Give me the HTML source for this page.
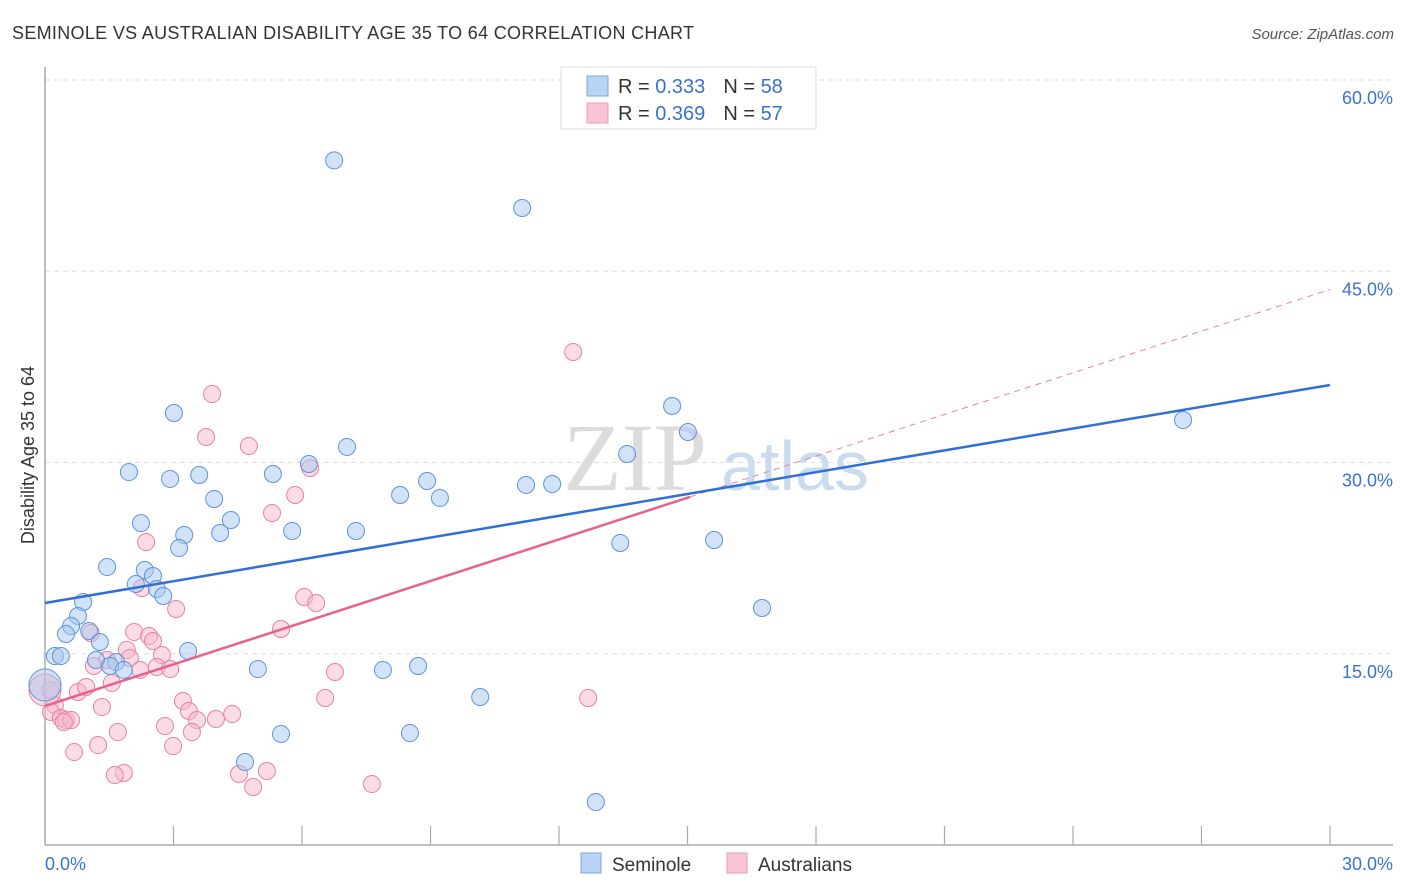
<!DOCTYPE html>
<html><head><meta charset="utf-8"><style>
body{margin:0;background:#fff;font-family:"Liberation Sans",sans-serif}
svg{display:block}
</style></head><body>
<svg id="chart" width="1406" height="892">
<text x="12" y="39" font-size="18" fill="#333" textLength="682">SEMINOLE VS AUSTRALIAN DISABILITY AGE 35 TO 64 CORRELATION CHART</text>
<text x="1394" y="39" font-size="15" fill="#555" font-style="italic" text-anchor="end">Source: ZipAtlas.com</text>
<text x="635" y="490" font-size="96" fill="#dcdcdc" font-family="Liberation Serif,serif" text-anchor="middle">ZIP</text>
<text x="795" y="490" font-size="70" fill="#c9dcef" text-anchor="middle">atlas</text>
<g id="grid"></g>
<g id="axes"></g>
<g id="marks"></g>
<text transform="translate(34,455) rotate(-90)" font-size="18" fill="#333" text-anchor="middle">Disability Age 35 to 64</text>
<g>
<rect x="561" y="67" width="255" height="62" fill="#fff" stroke="#ddd"/>
<rect x="587" y="76" width="21" height="20" fill="#b9d3f5" stroke="#7aa7e0"/>
<rect x="587" y="103" width="21" height="20" fill="#f9c5d4" stroke="#eb9ab5"/>
<text x="618" y="93" font-size="20" fill="#333">R = <tspan fill="#3a72d0">0.333</tspan><tspan dx="18">N = </tspan><tspan fill="#3a72d0">58</tspan></text>
<text x="618" y="120" font-size="20" fill="#333">R = <tspan fill="#3a72d0">0.369</tspan><tspan dx="18">N = </tspan><tspan fill="#3a72d0">57</tspan></text>
</g>
<g>
<rect x="581" y="853" width="20" height="20" fill="#b9d3f5" stroke="#7aa7e0"/>
<text x="612" y="871" font-size="19" fill="#333">Seminole</text>
<rect x="727" y="853" width="20" height="20" fill="#f9c5d4" stroke="#eb9ab5"/>
<text x="758" y="871" font-size="19" fill="#333">Australians</text>
</g>
</svg>
<script>
const yTicks=[15,30,45,60];
const xTickLabels=["0.0%","30.0%"];
const blueX=[6.75,11.14,3.01,14.64,15.01,7.05,13.59,1.96,3.60,2.92,6.16,5.32,8.92,8.29,9.22,11.23,11.84,3.95,4.34,2.24,5.77,7.26,3.25,4.09,3.13,13.43,15.62,1.45,2.33,2.52,2.12,2.61,2.76,0.89,0.77,0.61,0.49,1.03,1.28,16.74,0.23,0.37,3.34,1.19,1.66,1.52,1.84,4.97,7.89,8.71,26.57,10.16,5.51,8.52,4.67,12.86,0];
const blueY=[53.7,49.96,33.88,34.43,32.39,31.22,30.67,29.25,29.02,28.71,29.88,29.10,28.55,27.45,27.22,28.24,28.31,27.14,25.49,25.25,24.63,24.63,24.31,24.47,23.29,23.69,23.92,21.80,21.57,21.10,20.47,20.08,19.53,19.06,17.96,17.18,16.55,16.78,15.92,18.59,14.82,14.82,15.22,14.51,14.35,14.04,13.73,13.80,13.73,14.04,33.33,11.61,8.71,8.78,6.51,3.37,12.55];
const pinkX=[12.33,3.90,3.76,4.76,6.19,5.84,5.30,2.36,2.26,3.06,6.05,6.33,1.07,2.08,2.43,2.52,5.51,1.91,2.73,1.45,1.98,2.61,2.92,1.14,2.22,1.56,6.77,0.77,0.96,0.12,1.33,3.22,3.36,6.54,12.68,0.23,0.14,0.37,0.49,0.61,0.44,3.55,3.99,4.37,2.80,3.43,1.70,1.24,0.68,2.99,4.53,5.18,4.86,1.84,1.63,7.63,0];
const pinkY=[38.67,35.37,32.0,31.29,29.57,27.45,26.04,23.76,20.16,18.51,19.45,18.98,16.63,16.71,16.39,16.0,16.94,15.29,14.90,14.51,14.67,13.96,13.80,14.04,13.73,12.71,13.57,12.0,12.39,12.16,10.82,11.29,10.51,11.53,11.53,10.98,10.43,9.96,9.80,9.80,9.65,9.80,9.88,10.27,9.33,8.86,8.86,7.84,7.29,7.76,5.57,5.80,4.55,5.65,5.49,4.78,12.16];
const blueTrend=[18.98,36.08];
const pinkTrend=[10.90,43.57];
const pinkSolidEnd=15.06;

const NS="http://www.w3.org/2000/svg";
const X0=45,X1=1330,Y0=845,PXY=12.75;
const sx=v=>X0+(X1-X0)*v/30;
const sy=v=>Y0-v*PXY;
function mk(tag,attrs,parent){const e=document.createElementNS(NS,tag);for(const k in attrs)e.setAttribute(k,attrs[k]);parent.appendChild(e);return e;}
const grid=document.getElementById('grid'),axes=document.getElementById('axes'),marks=document.getElementById('marks');
yTicks.forEach(t=>{
  const l=mk('line',{x1:X0,x2:1393,y1:sy(t),y2:sy(t),stroke:'#ddd','stroke-dasharray':'5,4'},grid);
  
  
  const tx=mk('text',{x:1393,y:sy(t)+24,'font-size':18,fill:'#3a72d0','text-anchor':'end'},axes);
  tx.textContent=t.toFixed(1)+'%';
  
  
});
const ya=mk('line',{x1:X0,x2:X0,y1:67,y2:Y0,stroke:'#aaa','stroke-width':1.5},axes);


const xa=mk('line',{x1:X0,x2:1393,y1:Y0,y2:Y0,stroke:'#aaa','stroke-width':1.5},axes);


for(let i=1;i<=10;i++){
  const tk=mk('line',{x1:sx(i*3),x2:sx(i*3),y1:826,y2:Y0,stroke:'#aaa','stroke-width':1.2},axes);
  
  
}
const xl0=mk('text',{x:45,y:870,'font-size':18,fill:'#3a72d0'},axes);xl0.textContent=xTickLabels[0];


const xl1=mk('text',{x:1393,y:870,'font-size':18,fill:'#3a72d0','text-anchor':'end'},axes);xl1.textContent=xTickLabels[1];



function pts(xs,ys,fill,stroke,name){
  xs.forEach((x,i)=>{
    const big=(x===0);
    const c=mk('circle',{cx:sx(x),cy:sy(ys[i]),r:big?16:8.5,fill:fill,'fill-opacity':0.5,stroke:stroke,'stroke-width':1},marks);
    
    
  });
}
pts(pinkX,pinkY,'#f7b8cb','#e8829f','australians-point');
pts(blueX,blueY,'#a8c7f0','#5d93dc','seminole-point');
const pl=p=>pinkTrend[0]+(pinkTrend[1]-pinkTrend[0])*p/30;
const pd=mk('line',{x1:sx(pinkSolidEnd),y1:sy(pl(pinkSolidEnd)),x2:sx(30),y2:sy(pinkTrend[1]),stroke:'#e8829f','stroke-width':1,'stroke-dasharray':'6,5'},marks);


const ps=mk('line',{x1:sx(0),y1:sy(pinkTrend[0]),x2:sx(pinkSolidEnd),y2:sy(pl(pinkSolidEnd)),stroke:'#e8608e','stroke-width':2.5},marks);


const bl=mk('line',{x1:sx(0),y1:sy(blueTrend[0]),x2:sx(30),y2:sy(blueTrend[1]),stroke:'#2f6fd6','stroke-width':2.5},marks);


</script>
</body></html>
